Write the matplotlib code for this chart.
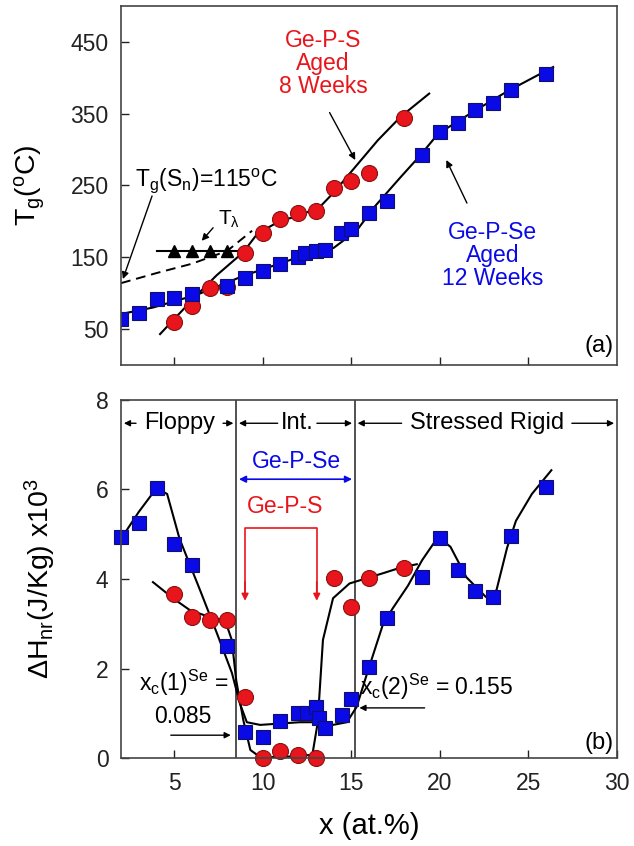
import matplotlib
matplotlib.use("Agg")
import matplotlib.pyplot as plt

plt.rcParams['font.family'] = ['Liberation Sans', 'DejaVu Sans']
plt.rcParams['mathtext.fontset'] = 'custom'
plt.rcParams['mathtext.rm'] = 'Liberation Sans'
plt.rcParams['mathtext.it'] = 'Liberation Sans:italic'
plt.rcParams['mathtext.default'] = 'regular'

# ---- panel (a): Tg vs x ----
se_x = [2, 3, 4, 5, 6, 8, 9, 10, 11, 12, 12.4, 13, 13.5, 14.4, 15, 16, 17, 19, 20, 21, 22, 23, 24, 26]
se_tg = [64, 72, 92, 93, 99, 110, 121, 131, 141, 151, 156, 159, 160, 184, 190, 212, 228, 292, 324, 337, 355, 365, 383, 405]
s_x = [5, 6, 7, 8, 9, 10, 11, 12, 13, 14, 15, 16, 18]
s_tg = [60, 82, 107, 109, 156, 184, 204, 211, 215, 246, 256, 268, 344]
lam_x = [5, 6, 7, 8]
lam_tg = [159, 159, 159, 159]

# hand-drawn guide curves
se_fit_x = [2, 3.8, 6.3, 8.9, 12, 14, 15.3, 16.3, 17.8, 18.9, 19.9, 21.9, 23.8, 26.4]
se_fit_y = [71, 80, 98, 124, 150, 163, 187, 220, 262, 292, 322, 353, 381, 415]
s_fit_x = [4.2, 6.3, 7.4, 8.9, 9.7, 11, 12.1, 13.3, 14, 15.3, 16.5, 17.8, 18.9, 19.4]
s_fit_y = [43, 98, 125, 157, 183, 201, 208, 222, 240, 278, 313, 346, 368, 378]
dash_x = [2, 4, 6, 8, 9.4]
dash_y = [114, 128, 141, 159, 187]

# ---- panel (b): dHnr vs x ----
se_b_x = [2, 3, 4, 5, 6, 8, 9, 10, 11, 12, 12.5, 13, 13.2, 13.5, 14.5, 15, 16, 17, 19, 20, 21, 22, 23, 24, 26]
se_b_h = [4.94, 5.25, 6.03, 4.78, 4.31, 2.5, 0.58, 0.47, 0.83, 1.0, 1.0, 1.14, 0.9, 0.67, 0.96, 1.32, 2.03, 3.13, 4.04, 4.92, 4.2, 3.73, 3.6, 4.96, 6.06]
s_b_x = [5, 6, 7, 8, 9, 10, 11, 12, 13, 14, 15, 16, 18]
s_b_h = [3.66, 3.15, 3.08, 3.08, 1.36, 0.0, 0.16, 0.07, 0.0, 4.02, 3.37, 4.02, 4.25]

se_bfit_x = [2, 3, 4, 4.6, 5.3, 6.46, 7.4, 8.26, 8.7, 9.1, 9.85, 12.1, 13.2, 13.96, 14.75, 15.3, 15.9, 16.8, 17.35,
             18.2, 19, 19.9, 20.6, 21.5, 22.6, 23.2, 23.8, 24.3, 25.2, 26.3]
se_bfit_y = [4.9, 5.5, 6.03, 5.9, 4.9, 3.75, 2.8, 1.9, 1.23, 0.8, 0.74, 0.8, 0.8, 0.74, 0.8, 1.14, 1.9, 3.0, 3.35,
             3.85, 4.42, 4.94, 4.72, 4.04, 3.6, 3.75, 4.7, 5.3, 5.9, 6.43]
s_bfit_x = [3.8, 5.0, 5.9, 7.0, 7.87, 8.25, 8.5, 8.9, 9.3, 9.85, 11, 12.8, 13.1, 13.4, 13.97, 14.9, 16.8, 17.75, 18.7]
s_bfit_y = [3.93, 3.55, 3.3, 3.15, 3.08, 2.64, 1.74, 0.85, 0.18, 0.02, 0.02, 0.07, 0.78, 2.64, 3.57, 3.9, 4.13, 4.25, 4.33]

xc1 = 8.5
xc2 = 15.2

blue = '#0a0ae6'
red = '#e8161c'
fs = 16.5

fig = plt.figure(figsize=(6.34, 8.46), dpi=100)
ax1 = fig.add_axes([0.191, 0.5686, 0.782, 0.4243])
ax2 = fig.add_axes([0.191, 0.1040, 0.782, 0.4232])

for ax in (ax1, ax2):
    ax.tick_params(direction='in', length=6, width=1, labelsize=fs, colors='#222222')
    ax.tick_params(axis='y', pad=9)
    ax.tick_params(axis='x', pad=10)
    for sp in ax.spines.values():
        sp.set_linewidth(1.2)
        sp.set_color('#444444')
    ax.set_xlim(2, 30)

arr = dict(arrowstyle='-|>', color='k', lw=1, mutation_scale=10)

# top panel
ax1.plot(se_fit_x, se_fit_y, color='k', lw=1.5)
ax1.plot(s_fit_x, s_fit_y, color='k', lw=1.5)
ax1.plot(dash_x, dash_y, color='k', lw=1.4, ls=(0, (5, 3)))
ax1.plot([4.0, 9.4], [159, 159], color='k', lw=1.5)
ax1.plot(s_x, s_tg, 'o', ms=11.5, color=red, mec='#8b1010', mew=0.8)
ax1.plot(se_x, se_tg, 's', ms=10.5, color=blue, mec='#10106a', mew=0.8)
ax1.plot(lam_x, lam_tg, '^', ms=9, color='k')

ax1.set_ylim(0, 500)
ax1.set_yticks([50, 150, 250, 350, 450])
ax1.set_xticks([5, 10, 15, 20, 25])
ax1.tick_params(axis='x', labelbottom=False)
ax1.set_ylabel('T$_g$($^o$C)', fontsize=20.5)
ax1.yaxis.set_label_coords(-0.149, 0.5)

ax1.text(13.4, 420, 'Ge-P-S\nAged\n8 Weeks', color=red, fontsize=fs, ha='center', va='center', linespacing=1.0)
ax1.annotate('', xy=(15.3, 282), xytext=(13.7, 355), arrowprops=arr)
ax1.text(23.0, 152, 'Ge-P-Se\nAged\n12 Weeks', color=blue, fontsize=fs, ha='center', va='center', linespacing=1.0)
ax1.annotate('', xy=(20.3, 289), xytext=(21.6, 222), arrowprops=arr)
ax1.text(2.8, 257, 'T$_g$(S$_n$)=115$^o$C', fontsize=fs, ha='left', va='center')
ax1.annotate('', xy=(2.05, 116), xytext=(3.8, 239), arrowprops=arr)
ax1.text(7.45, 203, 'T$_\\lambda$', fontsize=15, ha='left', va='center')
ax1.annotate('', xy=(6.45, 170), xytext=(7.3, 194), arrowprops=arr)
ax1.text(29.8, 26, '(a)', fontsize=17, ha='right', va='center')

# bottom panel
ax2.axvline(xc1, color='#333333', lw=1.2)
ax2.axvline(xc2, color='#333333', lw=1.2)
ax2.plot(se_bfit_x, se_bfit_y, color='k', lw=1.5)
ax2.plot(s_bfit_x, s_bfit_y, color='k', lw=1.5)
ax2.plot(s_b_x, s_b_h, 'o', ms=11.5, color=red, mec='#8b1010', mew=0.8, clip_on=False)
ax2.plot(se_b_x, se_b_h, 's', ms=10.5, color=blue, mec='#10106a', mew=0.8, clip_on=False)

ax2.set_ylim(0, 8)
ax2.set_yticks([0, 2, 4, 6, 8])
ax2.set_xticks([5, 10, 15, 20, 25, 30])
ax2.set_ylabel('$\\Delta$H$_{nr}$(J/Kg) x10$^3$', fontsize=20.5)
ax2.yaxis.set_label_coords(-0.127, 0.5)
ax2.set_xlabel('x (at.%)', fontsize=21)
ax2.xaxis.set_label_coords(0.5, -0.15)

hy = 7.48
ap = dict(arrowstyle='-|>', color='k', lw=1, mutation_scale=9)
ax2.text(5.33, hy, 'Floppy', fontsize=17, ha='center', va='center')
ax2.annotate('', xy=(2.0, hy), xytext=(3.0, hy), arrowprops=ap)
ax2.annotate('', xy=(xc1, hy), xytext=(7.6, hy), arrowprops=ap)
ax2.text(11.95, hy, 'Int.', fontsize=17, ha='center', va='center')
ax2.annotate('', xy=(xc1, hy), xytext=(11.0, hy), arrowprops=ap)
ax2.annotate('', xy=(xc2, hy), xytext=(12.9, hy), arrowprops=ap)
ax2.text(22.65, hy, 'Stressed Rigid', fontsize=17, ha='center', va='center')
ax2.annotate('', xy=(xc2, hy), xytext=(18.0, hy), arrowprops=ap)
ax2.annotate('', xy=(30, hy), xytext=(27.3, hy), arrowprops=ap)

ax2.text(11.9, 6.62, 'Ge-P-Se', color=blue, fontsize=fs, ha='center', va='center')
ax2.annotate('', xy=(xc1, 6.23), xytext=(xc2, 6.23),
             arrowprops=dict(arrowstyle='<|-|>', color=blue, lw=1.2, mutation_scale=10))
ax2.text(11.25, 5.62, 'Ge-P-S', color=red, fontsize=fs, ha='center', va='center')
ax2.plot([9.0, 9.0, 13.05, 13.05], [3.6, 5.14, 5.14, 3.6], color=red, lw=1.2)
ax2.annotate('', xy=(9.0, 3.45), xytext=(9.0, 4.0),
             arrowprops=dict(arrowstyle='-|>', color=red, lw=1.2, mutation_scale=10))
ax2.annotate('', xy=(13.05, 3.45), xytext=(13.05, 4.0),
             arrowprops=dict(arrowstyle='-|>', color=red, lw=1.2, mutation_scale=10))

ax2.text(3.0, 1.68, 'x$_c$(1)$^{Se}$ =', fontsize=fs, ha='left', va='center')
ax2.text(3.85, 0.92, '0.085', fontsize=fs, ha='left', va='center')
ax2.annotate('', xy=(8.35, 0.51), xytext=(4.65, 0.51), arrowprops=ap)
ax2.text(15.5, 1.59, 'x$_c$(2)$^{Se}$ = 0.155', fontsize=fs, ha='left', va='center')
ax2.annotate('', xy=(15.3, 1.12), xytext=(19.3, 1.12), arrowprops=ap)
ax2.text(29.8, 0.33, '(b)', fontsize=17, ha='right', va='center')

fig.savefig('out.png', dpi=100)
plt.close(fig)
